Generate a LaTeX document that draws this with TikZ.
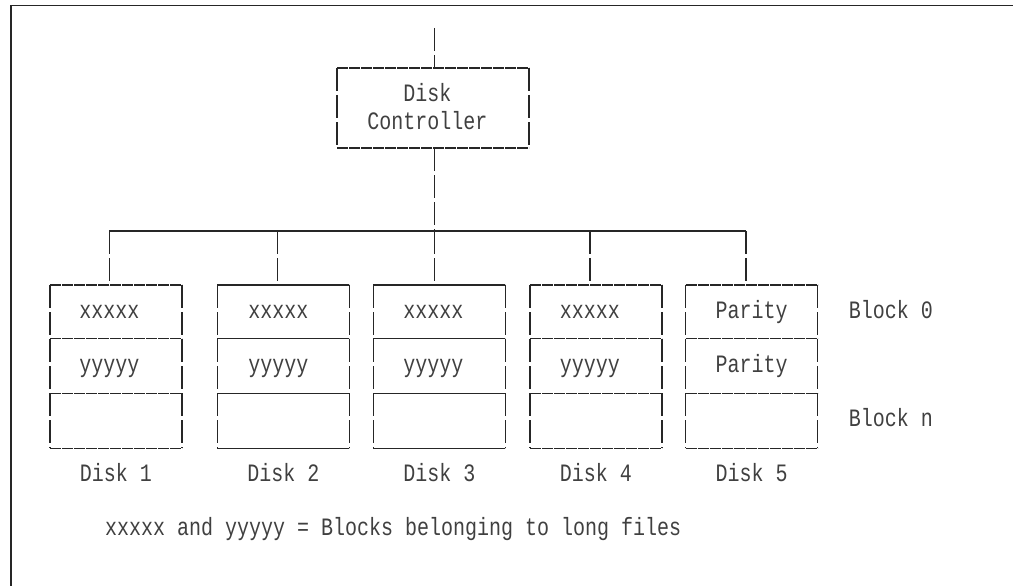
\documentclass[tikz,border=0pt]{standalone}
\usepackage{fontspec}
\newfontfamily\artmono[FakeStretch=0.8]{Liberation Mono}
\newcommand\artfont{\artmono\fontsize{25pt}{30pt}\selectfont}
\begin{document}
\begin{tikzpicture}[x=1pt,y=-1pt,
  wire/.style={draw=black!85, line width=1.4pt, dash pattern=on 11.2pt off 0.8pt},
  vwire/.style={draw=black!85, line width=1.4pt, dash pattern=on 23pt off 4pt},
  boxart/.style={rectangle, outer sep=0pt, inner sep=0pt, anchor=north west},
  diskbox/.style={boxart, minimum width=132pt, minimum height=163.3pt},
  txt/.style={font=\artfont, text=black!75, inner sep=0pt, anchor=base},
  frame/.style={draw=black!85, line width=1.6pt}]
\useasboundingbox (0,0) rectangle (1013,586);
\draw[frame] (1013,5.5) -- (11,5.5) -- (11,586);
% controller
\node[boxart, minimum width=192pt, minimum height=80pt] (ctrl) at (337,68) {};
\draw[wire] (ctrl.north west) -- (ctrl.north east);
\draw[wire] (ctrl.south west) -- (ctrl.south east);
\draw[vwire] (ctrl.north west) -- (ctrl.south west);
\draw[vwire] (ctrl.north east) -- (ctrl.south east);
\node[txt] (ctrl1) at (427.5,101.7) {Disk};
\node[txt] (ctrl2) at (427.5,129.3) {Controller};
\coordinate (top) at (434.3,28);
\draw[vwire] (top) -- (top |- ctrl.north);
% bus
\coordinate (b1) at (109.3,231);
\coordinate (b2) at (277.7,231);
\coordinate (b3) at (434.3,231);
\coordinate (b4) at (590,231);
\coordinate (b5) at (746,231);
\draw[vwire] (ctrl.south -| b3) -- (b3);
\draw[wire] (b1) -- (b5);
% disks
\foreach \i/\x in {1/50,2/217.3,3/373.3,4/530,5/685.7}{
  \node[diskbox] (d\i) at (\x,285) {};
  \draw[wire] (d\i.north west) -- (d\i.north east);
  \draw[wire] (d\i.south west) -- (d\i.south east);
  \draw[vwire] (d\i.north west) -- (d\i.south west);
  \draw[vwire] (d\i.north east) -- (d\i.south east);
  \draw[wire] (d\i.west |- 0,338.3) -- (d\i.east |- 0,338.3);
  \draw[wire] (d\i.west |- 0,393.7) -- (d\i.east |- 0,393.7);
  \draw[vwire] (b\i) -- (b\i |- d\i.north);
  \node[txt] (lab\i) at (d\i.center |- 0,481) {Disk \i};
}
\foreach \i/\x in {1/109.5,2/278.3,3/433.5,4/589.8}{
  \node[txt] (x\i) at (\x,318.7) {xxxxx};
  \node[txt] (y\i) at (\x,372) {yyyyy};
}
\node[txt] (p1) at (751.7,318.7) {Parity};
\node[txt] (p2) at (751.7,372) {Parity};
\node[txt, anchor=base west] (blk0) at (848.7,318.3) {Block 0};
\node[txt, anchor=base west] (blkn) at (848.7,426.7) {Block n};
\node[txt, anchor=base west] (cap) at (105,535) {xxxxx and yyyyy = Blocks belonging to long files};
\end{tikzpicture}
\end{document}
